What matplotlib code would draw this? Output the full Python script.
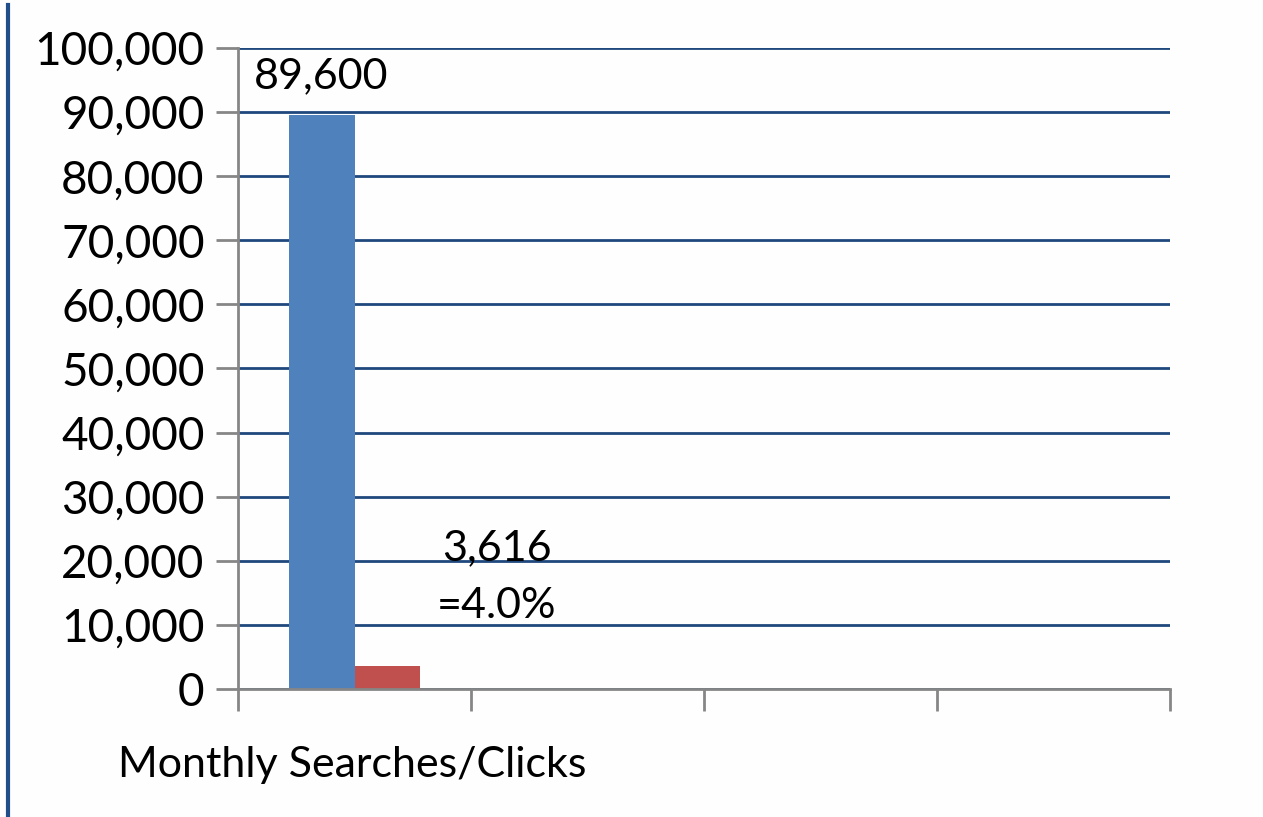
import matplotlib
matplotlib.use("Agg")
import matplotlib.pyplot as plt
from matplotlib.lines import Line2D

# Data
categories = ["Monthly Searches/Clicks"]
series_names = ["Monthly Searches", "Clicks"]
searches = [89600]
clicks = [3616]
click_rate_label = "=4.0%"
yticks = list(range(0, 100001, 10000))

plt.rcParams['font.family'] = ['Lato', 'DejaVu Sans']

fig = plt.figure(figsize=(12.63, 8.17), dpi=100)
fig.patch.set_facecolor('#FEFEFE')
ax = fig.add_axes([238/1263, 1-689/817, (1170-238)/1263, (689-48)/817])
ax.set_facecolor('#FEFEFE')

bw = 0.283
xs = [i + 0.5 for i in range(len(categories))]
ax.bar([x - bw/2 for x in xs], searches, width=bw, color='#4F81BD', zorder=3)
ax.bar([x + bw/2 for x in xs], clicks, width=bw, color='#C0504D', zorder=3)

ax.set_xlim(0, 4)
ax.set_ylim(0, 100000)
ax.set_yticks(yticks)
ax.set_yticklabels([f"{v:,}" for v in yticks], fontsize=33)
ax.set_xticks([0, 1, 2, 3, 4])
ax.set_xticklabels([])
ax.tick_params(axis='y', length=16, width=2, color='#868686', pad=8)
ax.tick_params(axis='x', length=16, width=2, color='#868686')
ax.grid(axis='y', color='#1F497D', linewidth=2, zorder=1)
ax.set_axisbelow(True)
for s in ['top', 'right']:
    ax.spines[s].set_visible(False)
for s in ['left', 'bottom']:
    ax.spines[s].set_color('#868686')
    ax.spines[s].set_linewidth(2)
    ax.spines[s].set_zorder(4)

# data labels
ax.text(xs[0] - bw/2, 95600, f"{searches[0]:,}", ha='center', va='center',
        fontsize=31)
lx = xs[0] + bw/2 + 0.47
ax.text(lx, 22000, f"{clicks[0]:,}", ha='center', va='center', fontsize=31)
ax.text(lx, 13000, click_rate_label, ha='center', va='center', fontsize=31)

# category label
fig.text(118/1263, 1-765/817, categories[0], ha='left', va='center', fontsize=31)

# left border line
fig.add_artist(Line2D([8/1263, 8/1263], [0, 1-5/817], color='#1F4E89', linewidth=3,
                      transform=fig.transFigure))

fig.savefig("out.png", dpi=100, facecolor=fig.get_facecolor())
